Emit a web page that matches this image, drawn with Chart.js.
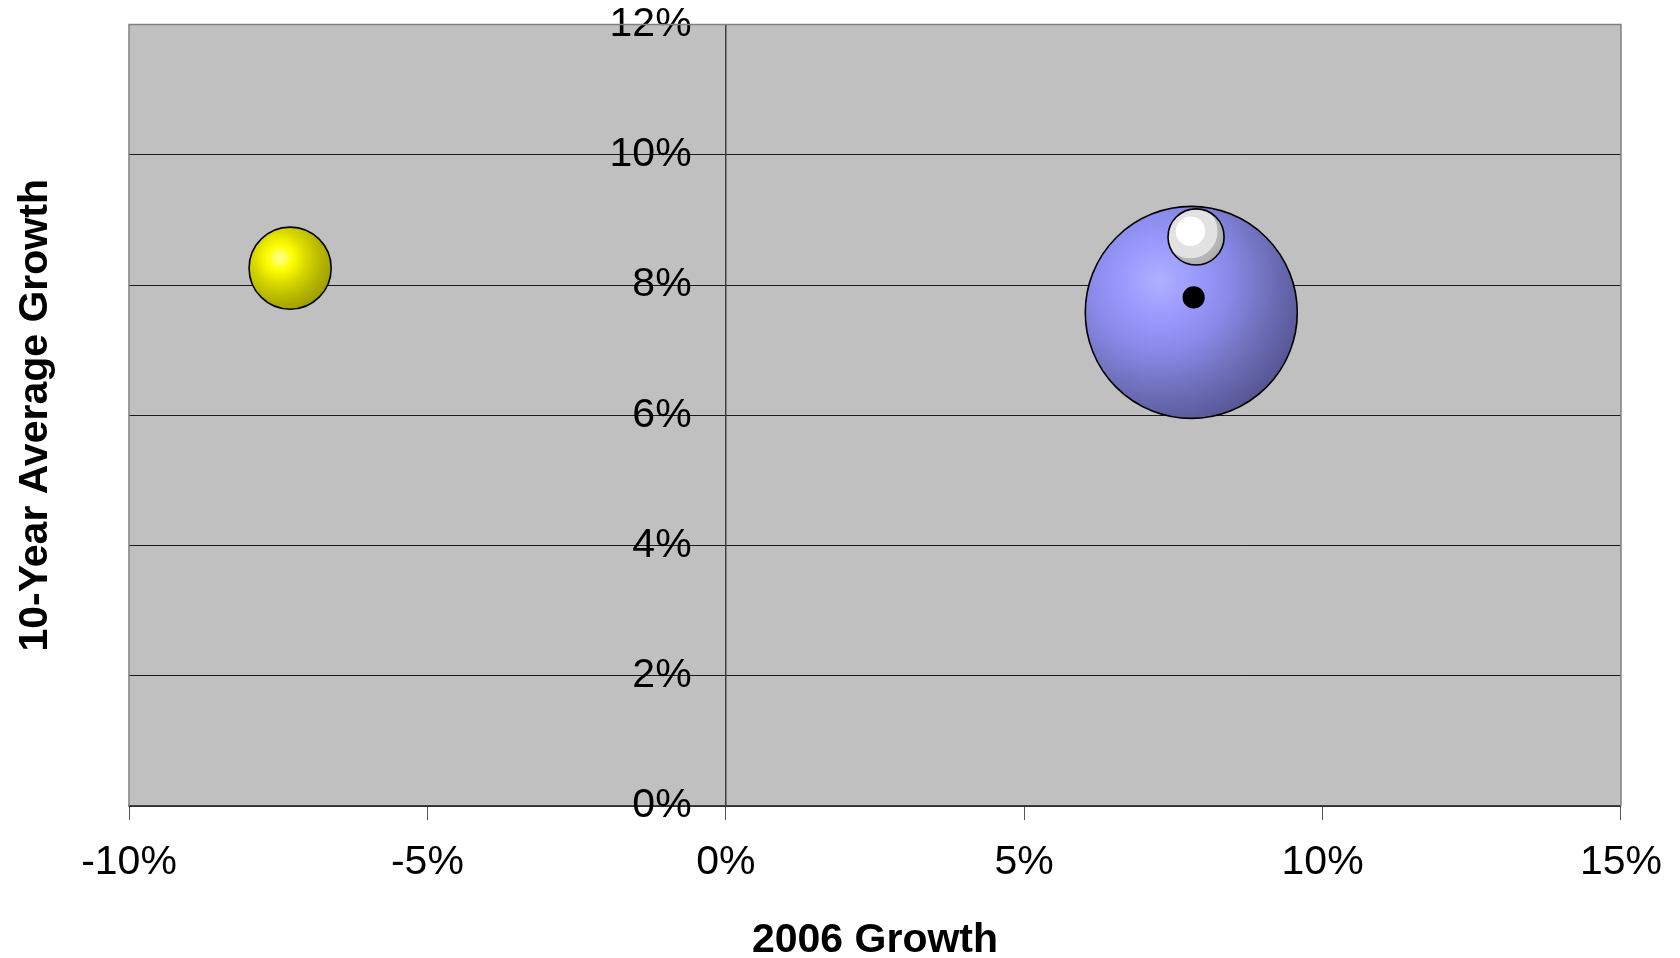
<!DOCTYPE html>
<html>
<head>
<meta charset="utf-8">
<title>2006 Growth vs 10-Year Average Growth</title>
<script src="https://cdn.jsdelivr.net/npm/chart.js@4.4.1/dist/chart.umd.min.js"></script>
<style>
  html, body { margin: 0; padding: 0; background: #ffffff; }
  #wrap { width: 1680px; height: 958px; }
</style>
</head>
<body>
<div id="wrap"><canvas id="chart" width="1680" height="958"></canvas></div>
<script>
// 2006 growth (x, %) and 10-year average growth (y, %) for each bubble
const growth2006 = [-7.3, 7.8, 7.88, 7.84];
const avgGrowth10yr = [8.26, 7.58, 8.74, 7.81];
// relative bubble size (area)
const bubbleSize = [15, 100, 7, 0.94];

// axis ticks (%)
const xTickValues = [-10, -5, 0, 5, 10, 15];
const yTickValues = [0, 2, 4, 6, 8, 10, 12];

const xTitle = '2006 Growth';
const yTitle = '10-Year Average Growth';

// ---- styling ----
const MAX_RADIUS = 106;
const shading = [
  // yellow
  { off: 0.25, stops: [[0, '#ffff90'], [0.12, '#ffff50'], [0.22, '#ffff00'], [0.34, '#eeee00'], [0.46, '#dada00'], [0.6, '#c8c800'], [0.76, '#b4b400'], [1, '#9c9c00']] },
  // blue
  { off: 0.3, stops: [[0, '#b0b0ff'], [0.22, '#9c9cff'], [0.46, '#8a8aea'], [0.72, '#7070bc'], [1, '#555594']] },
  // white
  { off: 0.2, stops: [[0, '#ffffff'], [0.4, '#ffffff'], [0.42, '#e2e2e2'], [0.74, '#e2e2e2'], [0.76, '#b8b8b8'], [1, '#acacac']] },
  // black
  { off: 0, stops: [[0, '#000000'], [1, '#000000']] }
];

const maxSize = Math.max(...bubbleSize);
const radiusOf = v => MAX_RADIUS * Math.sqrt(v / maxSize);

const points = growth2006.map((x, i) => ({ x, y: avgGrowth10yr[i], r: radiusOf(bubbleSize[i]) }));

function bubbleFill(ctx) {
  const chart = ctx.chart;
  const p = ctx.raw;
  const sx = chart.scales.x, sy = chart.scales.y;
  if (!sx || !sy || !p || sx.width === undefined) return '#888';
  const cx = sx.getPixelForValue(p.x);
  const cy = sy.getPixelForValue(p.y);
  const s = shading[ctx.dataIndex];
  const hx = cx - s.off * p.r, hy = cy - s.off * p.r;
  const g = chart.ctx.createRadialGradient(hx, hy, 0, hx, hy, p.r * (1 + s.off * 1.414));
  s.stops.forEach(([o, c]) => g.addColorStop(o, c));
  return g;
}

// grey plot-area fill and frame
const plotFrame = {
  id: 'plotFrame',
  beforeDraw(chart) {
    const { ctx, chartArea: a } = chart;
    ctx.save();
    ctx.fillStyle = '#c0c0c0';
    ctx.fillRect(a.left, a.top, a.right - a.left, a.bottom - a.top);
    ctx.restore();
  },
  beforeDatasetsDraw(chart) {
    const { ctx, chartArea: a } = chart;
    ctx.save();
    ctx.strokeStyle = '#808080';
    ctx.lineWidth = 1.5;
    ctx.beginPath();
    ctx.moveTo(a.left, a.bottom);
    ctx.lineTo(a.left, a.top);
    ctx.lineTo(a.right, a.top);
    ctx.lineTo(a.right, a.bottom);
    ctx.stroke();
    ctx.restore();
  }
};

const FONT = "'Liberation Sans', Arial, sans-serif";

new Chart(document.getElementById('chart'), {
  type: 'bubble',
  data: {
    datasets: [{
      data: points,
      backgroundColor: bubbleFill,
      borderColor: '#000000',
      borderWidth: 1.6,
      hoverBorderWidth: 1.6
    }]
  },
  options: {
    responsive: false,
    animation: false,
    events: [],
    layout: { autoPadding: false, padding: { top: 24, right: 59, bottom: 0, left: 0 } },
    plugins: { legend: { display: false }, tooltip: { enabled: false } },
    scales: {
      x: {
        type: 'linear',
        position: 'bottom',
        min: -10, max: 15,
        afterBuildTicks: s => { s.ticks = xTickValues.map(v => ({ value: v })); },
        afterFit: s => { s.height = 152; },
        ticks: {
          font: { family: FONT, size: 41 },
          color: '#000',
          padding: 18,
          maxRotation: 0,
          callback: v => v + '%'
        },
        grid: { drawOnChartArea: false, tickLength: 14, color: '#555', lineWidth: 1 },
        border: { display: true, color: '#404040', width: 1.5 },
        title: {
          display: true,
          text: xTitle,
          font: { family: FONT, size: 41, weight: 'bold', lineHeight: 1 },
          color: '#000',
          padding: { top: 0, bottom: -3 }
        }
      },
      y: {
        type: 'linear',
        position: { x: 0 },
        min: 0, max: 12,
        afterBuildTicks: s => { s.ticks = yTickValues.map(v => ({ value: v })); },
        ticks: {
          font: { family: FONT, size: 41 },
          color: '#000',
          padding: 0,
          // trailing spaces keep the right-aligned labels clear of the axis
          callback: v => v + '%   '
        },
        grid: {
          tickLength: 14,
          color: c => (c.tick && c.tick.value === 12) ? 'rgba(0,0,0,0)' : '#1a1a1a',
          lineWidth: 1
        },
        border: { display: true, color: '#404040', width: 1.5 }
      },
      yTitleAxis: {
        type: 'linear',
        position: 'left',
        afterFit: s => { s.width = 129; },
        ticks: { display: false },
        grid: { display: false, drawTicks: false },
        border: { display: false },
        title: {
          display: true,
          text: yTitle,
          font: { family: FONT, size: 41, weight: 'bold', lineHeight: 1 },
          color: '#000',
          padding: { top: 15, bottom: 0 }
        }
      }
    }
  },
  plugins: [plotFrame]
});
</script>
</body>
</html>
